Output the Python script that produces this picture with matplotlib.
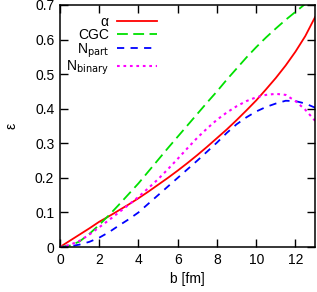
import numpy as np
import matplotlib
matplotlib.use("Agg")
import matplotlib.pyplot as plt

plt.rcParams['font.family'] = ['Liberation Sans', 'DejaVu Sans']

#------------------values----------------------------------------
b = np.arange(0, 13.01, 0.5)
alpha = [0, 0.018, 0.036, 0.054, 0.073, 0.089, 0.106, 0.123, 0.141, 0.160,
         0.180, 0.200, 0.221, 0.243, 0.266, 0.290, 0.315, 0.340, 0.367, 0.395,
         0.424, 0.456, 0.489, 0.525, 0.565, 0.610, 0.665]
cgc = [0, 0.004, 0.016, 0.038, 0.064, 0.092, 0.122, 0.153, 0.184, 0.218,
       0.252, 0.286, 0.319, 0.352, 0.385, 0.418, 0.450, 0.484, 0.516, 0.548,
       0.578, 0.606, 0.632, 0.657, 0.680, 0.703, 0.725]
n_part = [0, 0.002, 0.007, 0.015, 0.027, 0.043, 0.062, 0.080, 0.100, 0.125,
          0.150, 0.175, 0.200, 0.225, 0.250, 0.276, 0.302, 0.330, 0.355, 0.375,
          0.392, 0.405, 0.415, 0.423, 0.422, 0.415, 0.403]
n_binary = [0, 0.006, 0.018, 0.036, 0.057, 0.078, 0.100, 0.122, 0.145, 0.170,
            0.196, 0.225, 0.255, 0.286, 0.316, 0.343, 0.368, 0.389, 0.407, 0.422,
            0.433, 0.440, 0.443, 0.440, 0.422, 0.397, 0.365]
#----------------------------------------------------------------

fig = plt.figure(figsize=(3.17, 2.92), dpi=100)
ax = fig.add_axes([0.189, 0.154, 0.805, 0.829])

ax.plot(b, alpha, color='#ff0000', lw=1.3, label='α')
ax.plot(b, cgc, color='#00e000', lw=1.3, dashes=(6, 3), label='CGC')
ax.plot(b, n_part, color='#0000ff', lw=1.3, dashes=(4, 3.5), label=r'N$_{\rm part}$')
ax.plot(b, n_binary, color='#ff00ff', lw=1.5, dashes=(1.3, 1.8), label=r'N$_{\rm binary}$')

ax.set_xlim(0, 13)
ax.set_ylim(0, 0.7)
ax.set_xticks([0, 2, 4, 6, 8, 10, 12])
ax.set_yticks([0, 0.1, 0.2, 0.3, 0.4, 0.5, 0.6, 0.7])
ax.set_yticklabels(['0', '0.1', '0.2', '0.3', '0.4', '0.5', '0.6', '0.7'])
ax.tick_params(direction='in', length=5.5, width=1, top=True, right=True,
               labelsize=10, pad=4, colors='black')
for s in ax.spines.values():
    s.set_linewidth(1.1)

ax.set_xlabel('b [fm]', fontsize=10, labelpad=4)
ax.set_ylabel('ε', fontsize=10, rotation=90, labelpad=12)

ax.legend(loc='upper right', bbox_to_anchor=(0.42, 1.0), frameon=False,
          markerfirst=False, fontsize=10, handlelength=2.9, handletextpad=0.6,
          labelspacing=-0.05, borderaxespad=0.3)

fig.savefig('out.png', dpi=100)
